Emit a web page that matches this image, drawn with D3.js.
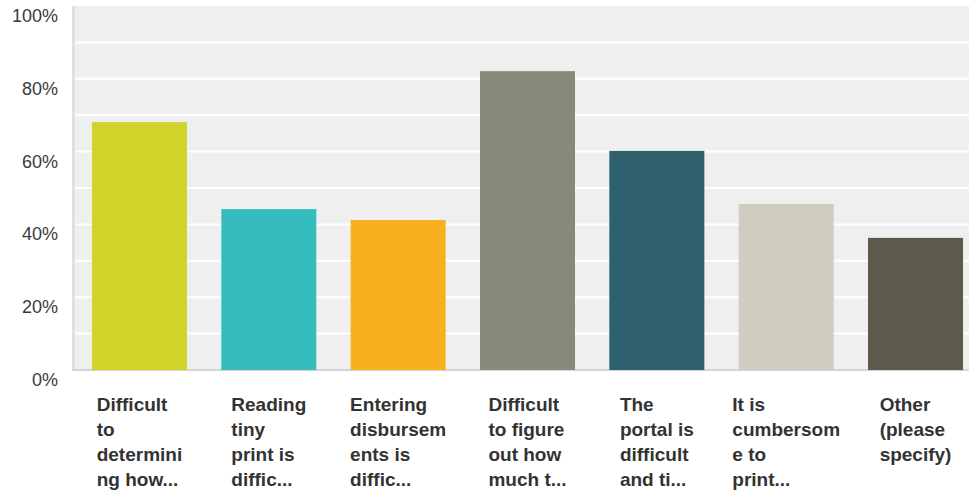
<!DOCTYPE html>
<html>
<head>
<meta charset="utf-8">
<script src="https://cdn.jsdelivr.net/npm/d3@7"></script>
<style>
  body { margin: 0; background: #fff; }
  svg { display: block; font-family: "Liberation Sans", Arial, Helvetica, sans-serif; }
</style>
</head>
<body>
<svg id="chart" width="969" height="491"></svg>
<script>
// answer labels, already wrapped/truncated as shown
const categories = [
    ["Difficult", "to", "determini", "ng how..."],
    ["Reading", "tiny", "print is", "diffic..."],
    ["Entering", "disbursem", "ents is", "diffic..."],
    ["Difficult", "to figure", "out how", "much t..."],
    ["The", "portal is", "difficult", "and ti..."],
    ["It is", "cumbersom", "e to", "print..."],
    ["Other", "(please", "specify)"]
];
const values = [68.1, 44.2, 41.2, 82.1, 60.2, 45.6, 36.3];
const colors = ["#d0d42a", "#35bdbe", "#f6b020", "#888a79", "#2f606e", "#cfcdbf", "#5c5a4a"];
const tickValues = [0, 20, 40, 60, 80, 100];
const gridValues = [10, 20, 30, 40, 50, 60, 70, 80, 90];

const svg = d3.select("#chart");
const plot = { left: 75, top: 6, right: 969, bottom: 369 };

const y = d3.scaleLinear()
    .domain([0, 100])
    .range([370, 6]);

const x = d3.scaleBand()
    .domain(d3.range(categories.length))
    .range([74.8, 980.2])
    .paddingInner(0.2655)
    .paddingOuter(0.1327);

//plot background and borders
svg.append("rect")
    .attr("x", plot.left)
    .attr("y", plot.top)
    .attr("width", plot.right - plot.left)
    .attr("height", plot.bottom - plot.top)
    .attr("fill", "#efefef");

svg.append("rect")
    .attr("x", 72)
    .attr("y", plot.top)
    .attr("width", 3)
    .attr("height", plot.bottom - plot.top + 2)
    .attr("fill", "#e0e0e0");

svg.append("rect")
    .attr("x", 72)
    .attr("y", plot.bottom)
    .attr("width", plot.right - 72)
    .attr("height", 2)
    .attr("fill", "#d4d4d4");

//gridlines
svg.selectAll("line.grid")
    .data(gridValues)
    .enter()
    .append("line")
    .attr("class", "grid")
    .attr("x1", plot.left)
    .attr("x2", plot.right)
    .attr("y1", d => y(d))
    .attr("y2", d => y(d))
    .attr("stroke", "#fff")
    .attr("stroke-width", 2);

//y tick labels
svg.selectAll("text.tick")
    .data(tickValues)
    .enter()
    .append("text")
    .attr("class", "tick")
    .attr("x", 58)
    .attr("y", d => y(d) + 16)
    .attr("text-anchor", "end")
    .style("font-size", "18px")
    .style("fill", "#3a3a3a")
    .text(d => d + "%");

//bars
svg.selectAll("rect.bar")
    .data(values)
    .enter()
    .append("rect")
    .attr("class", "bar")
    .attr("x", (d, i) => x(i))
    .attr("y", d => y(d))
    .attr("width", x.bandwidth())
    .attr("height", d => y(0) - y(d))
    .attr("fill", (d, i) => colors[i]);

//category labels: left aligned lines, block centered under the bar
const labels = svg.selectAll("g.cat")
    .data(categories)
    .enter()
    .append("g")
    .attr("class", "cat");

labels.each(function (lines, i) {
    const g = d3.select(this);
    const t = g.append("text")
        .style("font-size", "19px")
        .style("font-weight", "bold")
        .style("fill", "#333");
    lines.forEach((line, j) => {
        t.append("tspan")
            .attr("x", 0)
            .attr("y", 411 + j * 25)
            .text(line);
    });
    const w = t.node().getBBox().width;
    g.attr("transform", `translate(${x(i) + x.bandwidth() / 2 - w / 2}, 0)`);
});
</script>
</body>
</html>
